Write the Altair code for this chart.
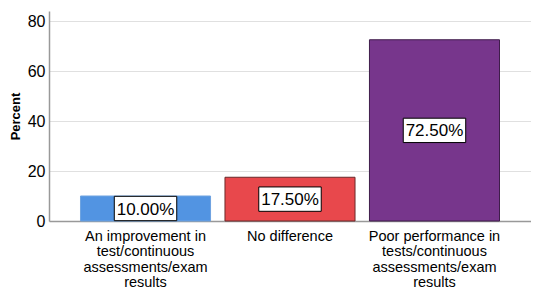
import altair as alt
import pandas as pd

categories = [
    "An improvement in\ntest/continuous\nassessments/exam\nresults",
    "No difference",
    "Poor performance in\ntests/continuous\nassessments/exam\nresults",
]
values = [10.0, 17.5, 72.5]
labels = ["10.00%", "17.50%", "72.50%"]
colors = ["#5294E2", "#E8484C", "#77368C"]
strokes = ["#6FA3E0", "#6A2A2A", "#3E1D4A"]

df = pd.DataFrame({
    "cat": categories,
    "value": values,
    "label": labels,
    "half": [v / 2 for v in values],
})

x = alt.X(
    "cat:N",
    sort=categories,
    scale=alt.Scale(paddingInner=0.1, paddingOuter=0.218),
    axis=alt.Axis(
        title=None,
        labelAngle=0,
        labelExpr="split(datum.label, '\\n')",
        labelFont="Liberation Sans",
        labelFontSize=14.5,
        labelLineHeight=15.5,
        labelColor="#000000",
        labelPadding=8,
        ticks=False,
        domainColor="#999999",
        domainWidth=1.5,
        grid=False,
        labelLimit=200,
    ),
)

bars = alt.Chart(df).mark_bar(strokeWidth=1).encode(
    x=x,
    y=alt.Y(
        "value:Q",
        scale=alt.Scale(domain=[0, 84], nice=False),
        axis=alt.Axis(
            title="Percent",
            titleFont="Liberation Sans",
            titleFontSize=13,
            titleFontWeight="bold",
            titleColor="#000000",
            titlePadding=5,
            values=[0, 20, 40, 60, 80],
            labelFont="Liberation Sans",
            labelFontSize=16,
            labelColor="#000000",
            labelPadding=4,
            ticks=False,
            domainColor="#999999",
            domainWidth=1.5,
            gridColor="#E0E0E0",
            gridWidth=1,
        ),
    ),
    fill=alt.Fill("cat:N", scale=alt.Scale(domain=categories, range=colors), legend=None),
    stroke=alt.Stroke("cat:N", scale=alt.Scale(domain=categories, range=strokes), legend=None),
)

boxes = alt.Chart(df).mark_point(
    shape="M-1,-0.39L1,-0.39L1,0.39L-1,0.39Z",
    filled=True,
    fill="white",
    stroke="#000000",
    strokeWidth=1,
    opacity=1,
    size=3900,
).encode(
    x=alt.X("cat:N", sort=categories),
    y=alt.Y("half:Q"),
)

texts = alt.Chart(df).mark_text(
    font="Liberation Sans",
    fontSize=17,
    color="#000000",
    baseline="middle",
    align="center",
    dy=1,
).encode(
    x=alt.X("cat:N", sort=categories),
    y=alt.Y("half:Q"),
    text="label:N",
)

chart = (
    alt.layer(bars, boxes, texts)
    .properties(
        width=482,
        height=210,
        autosize=alt.AutoSizeParams(type="none"),
        padding={"left": 41, "top": 3, "right": 0, "bottom": 72},
        background="white",
    )
    .configure_view(stroke=None)
)

chart.save("out.html", embed_options={"renderer": "svg", "actions": False})
